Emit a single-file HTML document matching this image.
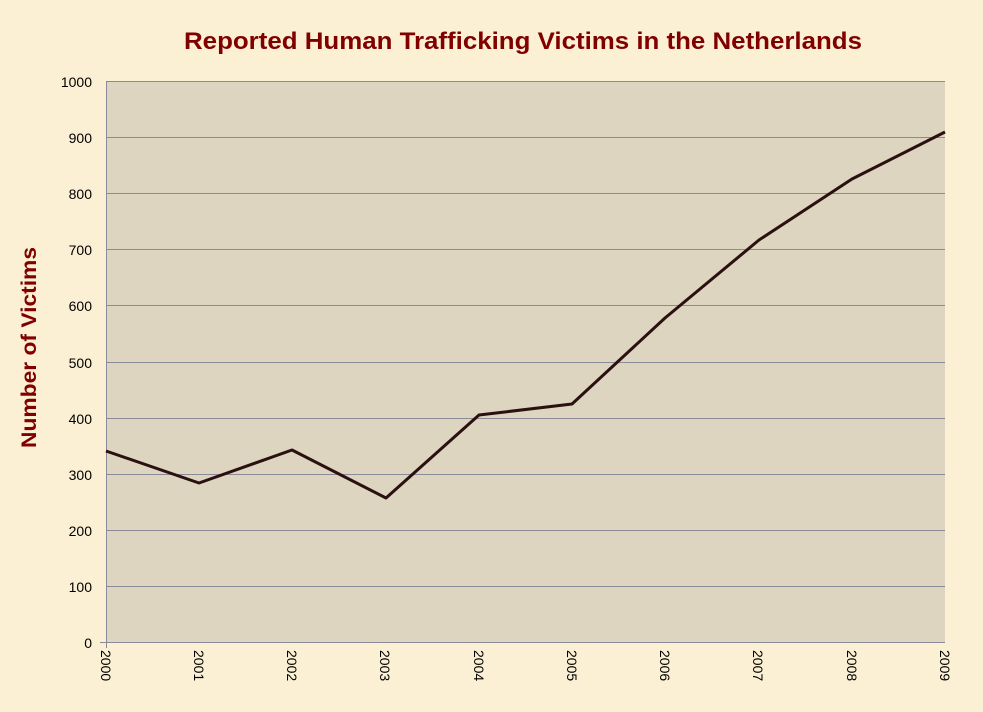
<!DOCTYPE html>
<html><head><meta charset="utf-8"><style>
body{margin:0;background:#fcf0d4;}
svg{display:block}
</style></head><body>
<svg width="983" height="712" xmlns="http://www.w3.org/2000/svg" font-family="Liberation Sans, Arial, sans-serif">
<rect width="983" height="712" fill="#fcf0d4"/>
<text x="184" y="49" textLength="678" lengthAdjust="spacingAndGlyphs" font-size="24" font-weight="bold" fill="#800000">Reported Human Trafficking Victims in the Netherlands</text>
<rect x="106" y="81" width="839" height="561" fill="#ddd5c0"/>
<g stroke="#8a8a98" stroke-width="1">
<line x1="106" x2="945" y1="81.5" y2="81.5"/>
<line x1="106" x2="945" y1="137.5" y2="137.5"/>
<line x1="106" x2="945" y1="193.5" y2="193.5"/>
<line x1="106" x2="945" y1="249.5" y2="249.5"/>
<line x1="106" x2="945" y1="305.5" y2="305.5"/>
<line x1="106" x2="945" y1="362.5" y2="362.5"/>
<line x1="106" x2="945" y1="418.5" y2="418.5"/>
<line x1="106" x2="945" y1="474.5" y2="474.5"/>
<line x1="106" x2="945" y1="530.5" y2="530.5"/>
<line x1="106" x2="945" y1="586.5" y2="586.5"/>
<line x1="100" x2="945" y1="642.5" y2="642.5"/>
<line x1="106.5" x2="106.5" y1="81" y2="648"/>
</g>
<g font-size="14" fill="#000" text-anchor="end">
<text x="92" y="87">1000</text><text x="92" y="143">900</text><text x="92" y="199">800</text>
<text x="92" y="255">700</text><text x="92" y="311">600</text><text x="92" y="368">500</text>
<text x="92" y="424">400</text><text x="92" y="480">300</text><text x="92" y="536">200</text>
<text x="92" y="592">100</text><text x="92" y="648">0</text>
</g>
<g font-size="14" fill="#000">
<text transform="translate(101,650) rotate(90)">2000</text>
<text transform="translate(194,650) rotate(90)">2001</text>
<text transform="translate(287,650) rotate(90)">2002</text>
<text transform="translate(380,650) rotate(90)">2003</text>
<text transform="translate(474,650) rotate(90)">2004</text>
<text transform="translate(567,650) rotate(90)">2005</text>
<text transform="translate(660,650) rotate(90)">2006</text>
<text transform="translate(753,650) rotate(90)">2007</text>
<text transform="translate(847,650) rotate(90)">2008</text>
<text transform="translate(940,650) rotate(90)">2009</text>
</g>
<text transform="translate(36,448) rotate(-90)" textLength="201" lengthAdjust="spacingAndGlyphs" font-size="21" font-weight="bold" fill="#800000">Number of Victims</text>
<polyline fill="none" stroke="#2a1010" stroke-width="3" stroke-linejoin="round" points="106,451 199,483 292,450 386,498 479,415 572,404 665,318 759,240 852,179 945,132"/>
</svg>
</body></html>
